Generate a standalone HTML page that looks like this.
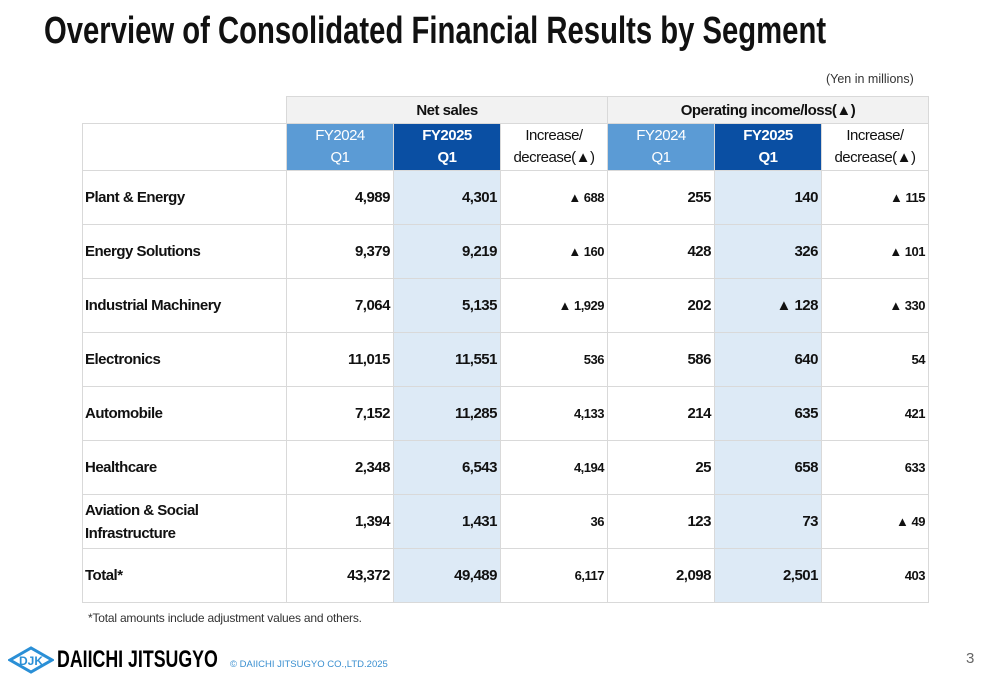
<!DOCTYPE html>
<html><head><meta charset="utf-8"><style>
body{margin:0;width:1000px;height:685px;background:#fff;position:relative;overflow:hidden;font-family:"Liberation Sans",sans-serif}
.title{position:absolute;left:44px;top:10px;font-size:38px;font-weight:bold;color:#111;white-space:nowrap;transform:scaleX(0.77);transform-origin:0 0}
.unit{position:absolute;left:826px;top:72px;font-size:12.5px;color:#333}
table{position:absolute;left:82px;top:96px;border-collapse:collapse;table-layout:fixed}
td{border:1px solid #d9d9d9;padding:0 3px;font-size:15px;letter-spacing:-0.5px;font-weight:bold;color:#111;text-align:right;white-space:nowrap}
td.lbl{text-align:left;padding-left:2px}
tr.data td{height:53px}
.h1 td{height:26px;background:#f2f2f2;text-align:center}
.h2 td{height:46px;text-align:center;font-weight:normal;line-height:22px}
.c24{background:#5b9bd5!important;color:#fff!important;font-weight:normal}
.c25{background:#0a4fa3!important;color:#fff!important;font-weight:bold!important}
.lb{background:#ddeaf6}
.sm{font-size:13px}
.note{position:absolute;left:88px;top:611px;font-size:12px;color:#333;letter-spacing:-0.2px}
.logo{position:absolute;left:8px;top:646px}
.brand{position:absolute;left:57px;top:646px;font-size:24px;font-weight:bold;color:#000;white-space:nowrap;transform:scaleX(0.74);transform-origin:0 0}
.copy{position:absolute;left:230px;top:659px;font-size:9.5px;color:#3a8fd0;white-space:nowrap}
.pg{position:absolute;left:966px;top:650px;font-size:15px;color:#666}
</style></head><body>
<div class="title">Overview of Consolidated Financial Results by Segment</div>
<div class="unit">(Yen in millions)</div>
<table>
<colgroup><col style="width:204px"><col style="width:107px"><col style="width:107px"><col style="width:107px"><col style="width:107px"><col style="width:107px"><col style="width:107px"></colgroup>
<tr class="h1"><td style="border:none;background:#fff"></td><td colspan="3">Net sales</td><td colspan="3">Operating income/loss(▲)</td></tr>
<tr class="h2"><td></td><td class="c24">FY2024<br>Q1</td><td class="c25">FY2025<br>Q1</td><td>Increase/<br>decrease(▲)</td><td class="c24">FY2024<br>Q1</td><td class="c25">FY2025<br>Q1</td><td>Increase/<br>decrease(▲)</td></tr>
<tr class="data"><td class="lbl">Plant &amp; Energy</td><td>4,989</td><td class="lb">4,301</td><td class="sm">▲ 688</td><td>255</td><td class="lb">140</td><td class="sm">▲ 115</td></tr>
<tr class="data"><td class="lbl">Energy Solutions</td><td>9,379</td><td class="lb">9,219</td><td class="sm">▲ 160</td><td>428</td><td class="lb">326</td><td class="sm">▲ 101</td></tr>
<tr class="data"><td class="lbl">Industrial Machinery</td><td>7,064</td><td class="lb">5,135</td><td class="sm">▲ 1,929</td><td>202</td><td class="lb">▲ 128</td><td class="sm">▲ 330</td></tr>
<tr class="data"><td class="lbl">Electronics</td><td>11,015</td><td class="lb">11,551</td><td class="sm">536</td><td>586</td><td class="lb">640</td><td class="sm">54</td></tr>
<tr class="data"><td class="lbl">Automobile</td><td>7,152</td><td class="lb">11,285</td><td class="sm">4,133</td><td>214</td><td class="lb">635</td><td class="sm">421</td></tr>
<tr class="data"><td class="lbl">Healthcare</td><td>2,348</td><td class="lb">6,543</td><td class="sm">4,194</td><td>25</td><td class="lb">658</td><td class="sm">633</td></tr>
<tr class="data"><td class="lbl" style="line-height:23px">Aviation &amp; Social<br>Infrastructure</td><td>1,394</td><td class="lb">1,431</td><td class="sm">36</td><td>123</td><td class="lb">73</td><td class="sm">▲ 49</td></tr>
<tr class="data"><td class="lbl">Total*</td><td>43,372</td><td class="lb">49,489</td><td class="sm">6,117</td><td>2,098</td><td class="lb">2,501</td><td class="sm">403</td></tr>
</table>
<div class="note">*Total amounts include adjustment values and others.</div>
<svg class="logo" width="46" height="28" viewBox="0 0 46 28"><polygon points="2,14 23,2 44,14 23,26" fill="none" stroke="#2a8fd6" stroke-width="3"/><text x="23" y="19" font-size="12" font-weight="bold" fill="#2a8fd6" text-anchor="middle" font-family="Liberation Sans">DJK</text></svg>
<div class="brand">DAIICHI JITSUGYO</div>
<div class="copy">© DAIICHI JITSUGYO CO.,LTD.2025</div>
<div class="pg">3</div>
</body></html>
